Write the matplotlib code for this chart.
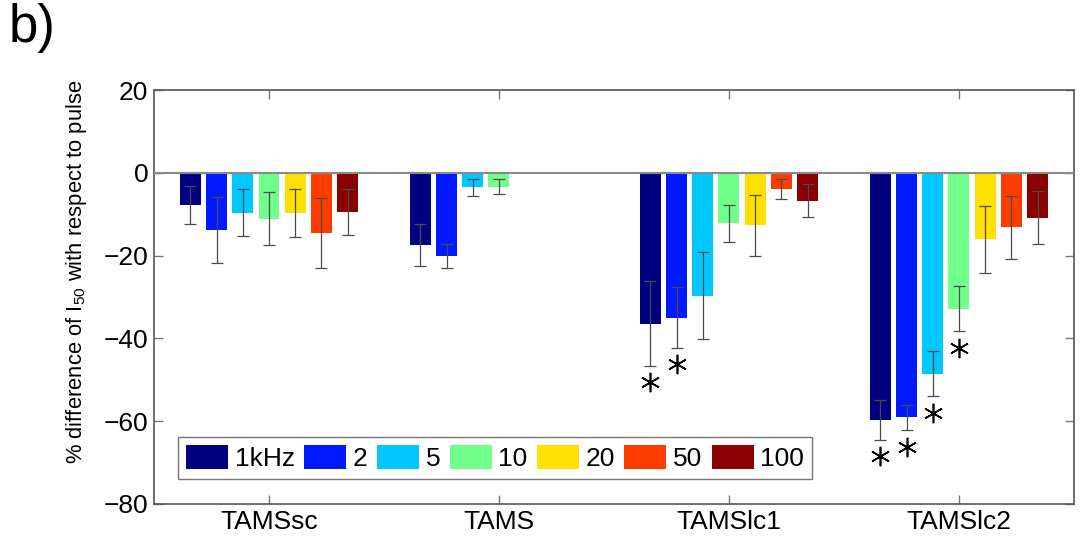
import numpy as np
import matplotlib
matplotlib.use("Agg")
import matplotlib.pyplot as plt
from matplotlib.patches import Patch

plt.rcParams['font.family'] = ['Liberation Sans', 'DejaVu Sans']
plt.rcParams['mathtext.fontset'] = 'custom'
plt.rcParams['mathtext.rm'] = 'Liberation Sans'

groups = ["TAMSsc", "TAMS", "TAMSlc1", "TAMSlc2"]
series = ["1kHz", "2", "5", "10", "20", "50", "100"]
colors = ['#000080', '#0019FF', '#00C8FF', '#70FF8A', '#FFE000', '#FF3C00', '#8B0000']

# mean values per series (rows) for each group (columns)
means = np.array([
    [-7.8, -17.4, -36.4, -59.7],   # 1kHz
    [-13.8, -20.1, -35.0, -59.1],  # 2
    [-9.6, -3.5, -29.7, -48.5],    # 5
    [-11.1, -3.4, -12.2, -32.8],   # 10
    [-9.7, 0.3, -12.7, -16.1],     # 20
    [-14.6, -0.4, -3.9, -13.2],    # 50
    [-9.5, -0.3, -6.7, -10.9],     # 100
])
errors = np.array([
    [4.5, 5.0, 10.2, 4.8],
    [8.0, 3.0, 7.3, 3.1],
    [5.6, 2.0, 10.5, 5.5],
    [6.4, 1.8, 4.4, 5.5],
    [5.7, 0.0, 7.4, 8.2],
    [8.5, 0.0, 2.4, 7.7],
    [5.6, 0.0, 3.9, 6.4],
])
significant = np.array([
    [0, 0, 1, 1],
    [0, 0, 1, 1],
    [0, 0, 0, 1],
    [0, 0, 0, 1],
    [0, 0, 0, 0],
    [0, 0, 0, 0],
    [0, 0, 0, 0],
], dtype=bool)

fig = plt.figure(figsize=(10.8, 5.41), dpi=100)
ax = fig.add_axes([0.1426, 0.0684, 0.8518, 0.7652])

x = np.arange(1, len(groups) + 1)
n = len(series)
pitch = 0.114
width = 0.8 * pitch
for i in range(n):
    xi = x + (i - (n - 1) / 2) * pitch
    ax.bar(xi, means[i], width=width, color=colors[i], edgecolor='none', zorder=2)
    m = errors[i] > 0
    ax.errorbar(xi[m], means[i][m], yerr=errors[i][m], fmt='none', ecolor='#4a4a4a',
                elinewidth=0.9, capsize=4.5, capthick=0.9, zorder=3)
    s = significant[i]
    ax.plot(xi[s], means[i][s] - errors[i][s] - 4.0, linestyle='none',
            marker=(6, 2, 0), markersize=14, markeredgewidth=1.2,
            color='black', zorder=4)

ax.axhline(0, color='#8a8a8a', linewidth=1.5, zorder=3.5)

ax.set_xlim(0.5, 4.5)
ax.set_ylim(-80, 20)
ax.set_yticks(np.arange(-80, 21, 20))
ax.set_yticklabels(['\u221280', '\u221260', '\u221240', '\u221220', '0', '20'])
ax.set_xticks(x)
ax.set_xticklabels(groups)
ax.tick_params(axis='both', direction='in', length=6.5, width=1, color='#777777',
               labelsize=19, pad=4, top=True, right=True)
for sp in ax.spines.values():
    sp.set_color('#555555')
    sp.set_linewidth(1.2)

ax.set_ylabel(r'% difference of I$_{\mathregular{50}}$ with respect to pulse', fontsize=15.8)
ax.yaxis.set_label_coords(-0.071, 0.56)

handles = [Patch(facecolor=c, edgecolor='none') for c in colors]
leg = ax.legend(handles, series, loc='lower left', bbox_to_anchor=(0.026, 0.060),
                ncol=n, fontsize=19, handlelength=1.6, handleheight=1.05,
                handletextpad=0.25, columnspacing=0.35, borderpad=0.3,
                borderaxespad=0, fancybox=False, framealpha=1)
leg.get_frame().set_edgecolor('#777777')
leg.get_frame().set_linewidth(1.0)

fig.text(0.008, 0.995, 'b)', fontsize=38, va='top', ha='left')

fig.savefig('out.png', dpi=100)
